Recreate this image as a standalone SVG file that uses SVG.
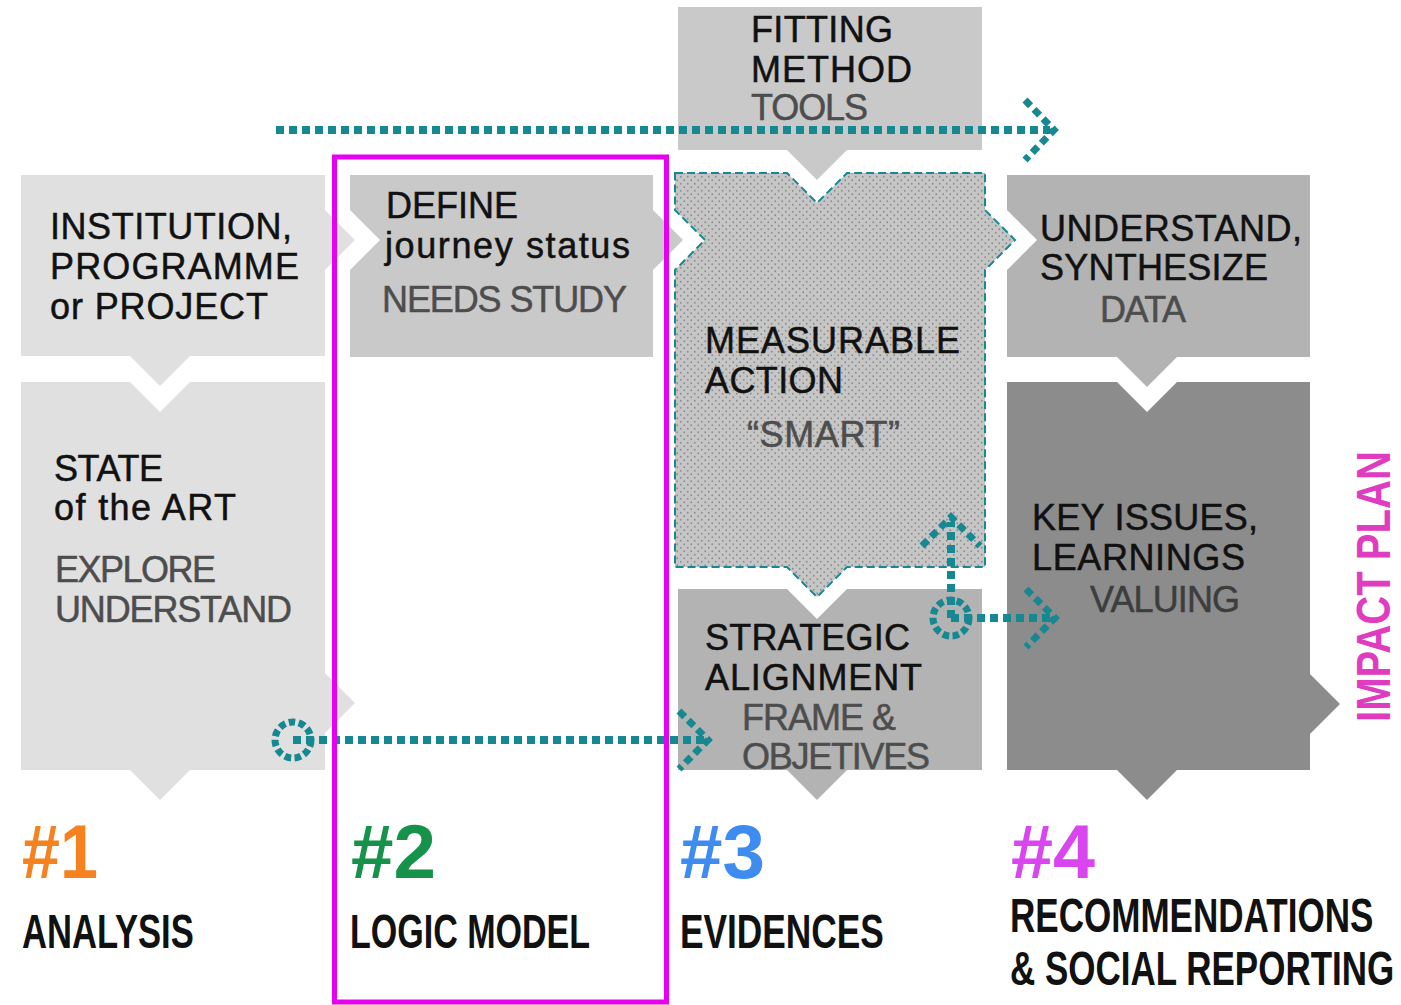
<svg xmlns="http://www.w3.org/2000/svg" width="1401" height="1005" viewBox="0 0 1401 1005">
<defs>
<pattern id="dots" width="7" height="7" patternUnits="userSpaceOnUse">
<rect width="7" height="7" fill="#c6c6c6"/>
<circle cx="1.75" cy="1.75" r="0.9" fill="#8c8c8c"/>
<circle cx="5.25" cy="5.25" r="0.9" fill="#8c8c8c"/>
</pattern>
<style>
.t{font-family:"Liberation Sans",Arial,Helvetica,sans-serif;font-size:36px;fill:#111;stroke:#111;stroke-width:0.5}
.s{fill:#4d4d4d;stroke:#4d4d4d}
.v{fill:#3d3d3d;stroke:#3d3d3d}
.lbl{font-family:"Liberation Sans",Arial,Helvetica,sans-serif;font-weight:bold;fill:#111}
.num{font-family:"Liberation Sans",Arial,Helvetica,sans-serif;font-weight:bold;font-size:76px}
.con{fill:none;stroke:#168891;stroke-width:8;stroke-dasharray:8 5}
.head{fill:none;stroke:#168891;stroke-width:7;stroke-dasharray:8 5;stroke-linejoin:miter}
.ring{fill:none;stroke:#168891;stroke-width:7;stroke-dasharray:6.5 3.5}
</style>
</defs>
<rect width="1401" height="1005" fill="#ffffff"/>

<g id="node-institution">
<path d="M21,175 H325 V210 L355,240 L325,270 V356 H190 L160,386 L130,356 H21 Z" fill="#e0e0e0"/>
<text class="t" x="50" y="239" font-size="37" textLength="242">INSTITUTION,</text>
<text class="t" x="50" y="279" font-size="37" textLength="249">PROGRAMME</text>
<text class="t" x="50" y="319" font-size="37" textLength="218">or PROJECT</text>
</g>

<g id="node-state">
<path d="M21,382 H130 L160,412 L190,382 H325 V673 L355,703 L325,733 V770 H190 L160,800 L130,770 H21 Z" fill="#e0e0e0"/>
<text class="t" x="54" y="481" font-size="35" textLength="109">STATE</text>
<text class="t" x="54" y="520" font-size="35" textLength="182">of the ART</text>
<text class="t s" x="55" y="582" font-size="34" textLength="161">EXPLORE</text>
<text class="t s" x="55" y="622" font-size="34" textLength="237">UNDERSTAND</text>
</g>

<g id="node-define">
<path d="M350,175 H653 V210 L683,240 L653,270 V357 H350 V270 L380,240 L350,210 Z" fill="#c9c9c9"/>
<text class="t" x="386" y="218" font-size="35" textLength="132">DEFINE</text>
<text class="t" x="385" y="258" font-size="36" textLength="245">journey status</text>
<text class="t s" x="382" y="312" font-size="34" textLength="245">NEEDS STUDY</text>
</g>

<g id="node-fitting">
<path d="M678,7 H982 V150 H847 L817,180 L787,150 H678 Z" fill="#c9c9c9"/>
<text class="t" x="751" y="42" textLength="142">FITTING</text>
<text class="t" x="751" y="82" textLength="161">METHOD</text>
<text class="t s" x="751" y="120" textLength="117">TOOLS</text>
</g>

<g id="node-measurable">
<path d="M675,173 H787 L817,203 L847,173 H985 V210 L1015,240 L985,270 V567 H847 L817,597 L787,567 H675 V270 L705,240 L675,210 Z" fill="url(#dots)" stroke="#168891" stroke-width="2" stroke-dasharray="8 4"/>
<text class="t" x="705" y="353" font-size="37" textLength="255">MEASURABLE</text>
<text class="t" x="705" y="393" font-size="37" textLength="138">ACTION</text>
<text class="t s" x="747" y="447" font-size="36" textLength="153">“SMART”</text>
</g>

<g id="node-strategic">
<path d="M678,589 H787 L817,619 L847,589 H982 V770 H847 L817,800 L787,770 H678 Z" fill="#b3b3b3"/>
<text class="t" x="705" y="650" textLength="205">STRATEGIC</text>
<text class="t" x="705" y="690" textLength="217">ALIGNMENT</text>
<text class="t s" x="742" y="730" textLength="154">FRAME &amp;</text>
<text class="t s" x="742" y="769" textLength="188">OBJETIVES</text>
</g>

<g id="node-understand">
<path d="M1007,175 H1310 V357 H1177 L1147,387 L1117,357 H1007 V270 L1037,240 L1007,210 Z" fill="#b3b3b3"/>
<text class="t" x="1040" y="241" textLength="262">UNDERSTAND,</text>
<text class="t" x="1040" y="280" textLength="228">SYNTHESIZE</text>
<text class="t s" x="1100" y="322" font-size="34" textLength="86">DATA</text>
</g>

<g id="node-keyissues">
<path d="M1007,382 H1117 L1147,412 L1177,382 H1310 V674 L1340,704 L1310,734 V770 H1177 L1147,800 L1117,770 H1007 Z" fill="#8c8c8c"/>
<text class="t" x="1032" y="530" textLength="226">KEY ISSUES,</text>
<text class="t" x="1032" y="570" textLength="213">LEARNINGS</text>
<text class="t v" x="1090" y="612" font-size="34" textLength="150">VALUING</text>
</g>

<g id="connectors">
<path class="con" d="M276,130 H1050"/>
<path class="head" d="M1025,100 L1054,130 L1025,160"/>
<circle class="ring" cx="293" cy="740" r="18"/>
<path class="con" d="M293,740 H704"/>
<path class="head" d="M679,711 L708,740 L679,769"/>
<circle class="ring" cx="951" cy="618" r="18"/>
<path class="con" d="M951,618 V522"/>
<path class="head" d="M922,546 L951,517 L980,546"/>
<path class="con" d="M951,618 H1052"/>
<path class="head" d="M1026,589 L1055,618 L1026,647"/>
</g>

<g id="logic-model-frame">
<rect x="334.5" y="157" width="332" height="845" fill="none" stroke="#e600f0" stroke-width="5"/>
</g>

<g id="impact-plan">
<text class="lbl" transform="translate(1390,722) rotate(-90) scale(0.818,1)" font-size="49" style="fill:#e03cbf">IMPACT PLAN</text>
</g>

<g id="phase-1">
<text class="num" x="22" y="878" textLength="76" lengthAdjust="spacingAndGlyphs" fill="#f5821f">#1</text>
<text class="lbl" transform="translate(22,948) scale(0.721,1)" font-size="48">ANALYSIS</text>
</g>
<g id="phase-2">
<text class="num" x="351" y="878" textLength="85" lengthAdjust="spacingAndGlyphs" fill="#17924a">#2</text>
<text class="lbl" transform="translate(350,948) scale(0.709,1)" font-size="48">LOGIC MODEL</text>
</g>
<g id="phase-3">
<text class="num" x="680" y="878" textLength="85" lengthAdjust="spacingAndGlyphs" fill="#3f8cf0">#3</text>
<text class="lbl" transform="translate(680,948) scale(0.735,1)" font-size="48">EVIDENCES</text>
</g>
<g id="phase-4">
<text class="num" x="1011" y="878" textLength="84" lengthAdjust="spacingAndGlyphs" fill="#d946ef">#4</text>
<text class="lbl" transform="translate(1010,932) scale(0.730,1)" font-size="48">RECOMMENDATIONS</text>
<text class="lbl" transform="translate(1010,985) scale(0.729,1)" font-size="48">&amp; SOCIAL REPORTING</text>
</g>
</svg>
